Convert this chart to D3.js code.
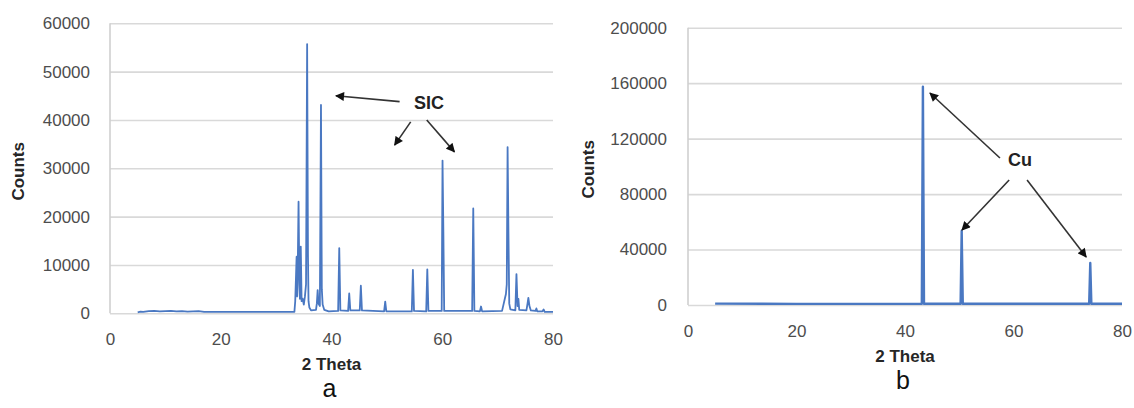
<!DOCTYPE html>
<html>
<head>
<meta charset="utf-8">
<script src="https://cdn.jsdelivr.net/npm/d3@7"></script>
<style>
  html, body { margin: 0; padding: 0; background: #fff; }
  text { font-family: "Liberation Sans", Arial, sans-serif; }
</style>
</head>
<body>
<svg id="chart" width="1134" height="408"></svg>
<script>
// ---- data ----
// panel a : SiC powder pattern
const thetaA = [5, 5.5, 6, 7, 8, 9, 10, 11, 12, 13, 14, 15, 16, 17, 20, 25, 30, 33.3,
  33.45, 33.6, 33.7, 33.8, 33.9, 34.05, 34.2, 34.3, 34.45, 34.6, 34.8, 35.0, 35.2, 35.4,
  35.6, 35.75, 35.85, 36.0, 36.3, 37.2, 37.35, 37.5, 37.65, 37.9, 38.1, 38.25, 38.4, 38.7,
  39.5, 41.2, 41.4, 41.6, 43.0, 43.2, 43.4, 45.1, 45.3, 45.5, 49.5, 49.7, 49.9,
  54.5, 54.7, 54.9, 57.1, 57.3, 57.5, 59.9, 60.05, 60.2, 60.35, 65.4, 65.6, 65.8,
  66.8, 67.0, 67.2, 70.8, 71.1, 71.3, 71.5, 71.65, 71.8, 71.95, 72.1, 72.3,
  73.2, 73.4, 73.6, 73.75, 73.9, 75.2, 75.4, 75.55, 75.75, 76.0, 76.85, 77.0, 77.15,
  78.1, 78.3, 78.5, 80];
const countsA = [200, 350, 300, 450, 500, 400, 450, 500, 400, 450, 350, 400, 450, 300, 300, 280, 280, 300,
  2500, 8000, 11700, 3500, 9000, 23100, 6000, 3000, 13800, 2500, 3000, 1800, 3500, 6000,
  55700, 12000, 2500, 1200, 600, 700, 2000, 4800, 2000, 1500, 43100, 5000, 1800, 700,
  400, 500, 13500, 600, 500, 4100, 600, 600, 5700, 600, 400, 2400, 400,
  400, 9000, 500, 400, 9100, 500, 500, 31600, 17000, 500, 500, 21700, 500,
  400, 1400, 400, 500, 2000, 3000, 4000, 6000, 34400, 17000, 2000, 800,
  600, 8100, 1500, 3000, 700, 600, 2000, 3200, 1500, 600, 500, 1000, 400,
  400, 800, 300, 300];

// panel b : Cu pattern
const thetaB = [5, 20, 43.1, 43.3, 43.5, 50.25, 50.45, 50.65, 73.95, 74.15, 74.35, 80];
const countsB = [1000, 800, 900, 157400, 900, 900, 53400, 900, 900, 30300, 900, 900];

const xTicks = [0, 20, 40, 60, 80];
const yTicksA = [0, 10000, 20000, 30000, 40000, 50000, 60000];
const yTicksB = [0, 40000, 80000, 120000, 160000, 200000];

// annotations in data units: [fromTheta, fromCounts, toTheta, toCounts]
const sicLabel = [57.6, 43600];
const sicArrows = [[52.3, 43800, 40.8, 45000], [54.3, 39600, 51.4, 34800], [57.2, 40000, 62.2, 33400]];
const cuLabel = [61.2, 104500];
const cuArrows = [[57.5, 106000, 44.6, 152900], [59.2, 90200, 50.5, 54100], [62.5, 90200, 73.4, 34600]];

const svg = d3.select('#chart');

svg.append('defs').append('marker')
  .attr('id', 'head')
  .attr('viewBox', '0 0 10 10')
  .attr('refX', 9).attr('refY', 5)
  .attr('markerWidth', 10).attr('markerHeight', 9)
  .attr('markerUnits', 'userSpaceOnUse')
  .attr('orient', 'auto')
  .append('path').attr('d', 'M0,0 L10,5 L0,10 z').attr('fill', '#111');

function drawPanel(p) {
  const x = d3.scaleLinear().domain([0, 80]).range([p.left, p.right]);
  const y = d3.scaleLinear().domain([0, p.yMax]).range([p.bottom, p.top]);
  const g = svg.append('g');

  // gridlines
  g.append('g')
    .attr('transform', `translate(${p.left},0)`)
    .call(d3.axisLeft(y).tickValues(p.yTicks).tickSize(-(p.right - p.left)).tickFormat(''))
    .call(a => a.select('.domain').remove())
    .call(a => a.selectAll('line').attr('stroke', '#d9d9d9').attr('stroke-width', 1.6));

  // left axis line
  g.append('line')
    .attr('x1', p.left).attr('x2', p.left)
    .attr('y1', p.top).attr('y2', p.bottom)
    .attr('stroke', '#d0d0d0').attr('stroke-width', 1.6);

  // y tick labels
  g.append('g')
    .attr('transform', `translate(${p.left},0)`)
    .call(d3.axisLeft(y).tickValues(p.yTicks).tickSize(0).tickPadding(p.yPad).tickFormat(d3.format('d')))
    .call(a => a.select('.domain').remove())
    .call(a => a.selectAll('text')
      .attr('font-size', 17).attr('fill', '#4d4d4d')
      .style('font-family', '"Liberation Sans", Arial, sans-serif'));

  // x tick labels
  g.append('g')
    .attr('transform', `translate(0,${p.bottom})`)
    .call(d3.axisBottom(x).tickValues(xTicks).tickSize(0).tickPadding(20))
    .call(a => a.select('.domain').remove())
    .call(a => a.selectAll('text')
      .attr('font-size', 17).attr('fill', '#4d4d4d')
      .style('font-family', '"Liberation Sans", Arial, sans-serif'));

  // pattern
  const line = d3.line().x(d => x(d[0])).y(d => y(d[1]));
  g.append('path')
    .datum(p.theta.map((t, i) => [t, p.counts[i]]))
    .attr('d', line)
    .attr('fill', 'none')
    .attr('stroke', '#4a78c2')
    .attr('stroke-width', p.lineW)
    .attr('stroke-linejoin', 'round');

  // axis titles
  g.append('text')
    .attr('x', (p.left + p.right) / 2).attr('y', p.bottom + 57)
    .attr('text-anchor', 'middle')
    .attr('font-size', 17).attr('font-weight', 'bold').attr('fill', '#262626')
    .text('2 Theta');
  g.append('text')
    .attr('transform', `translate(${p.yTitleX},${(p.top + p.bottom) / 2 + 3}) rotate(-90)`)
    .attr('text-anchor', 'middle')
    .attr('font-size', 17).attr('font-weight', 'bold').attr('fill', '#262626')
    .text('Counts');

  // panel letter
  g.append('text')
    .attr('x', (p.left + p.right) / 2 - 2).attr('y', p.bottom + 84)
    .attr('text-anchor', 'middle')
    .attr('font-size', 25).attr('fill', '#111')
    .text(p.letter);

  // annotation
  g.append('text')
    .attr('x', x(p.label[0])).attr('y', y(p.label[1]))
    .attr('text-anchor', 'middle').attr('dy', '0.35em')
    .attr('font-size', 18).attr('font-weight', 'bold').attr('fill', '#222')
    .text(p.labelText);
  g.selectAll('.arrow')
    .data(p.arrows)
    .enter().append('line')
    .attr('class', 'arrow')
    .attr('x1', d => x(d[0])).attr('y1', d => y(d[1]))
    .attr('x2', d => x(d[2])).attr('y2', d => y(d[3]))
    .attr('stroke', '#333').attr('stroke-width', 1.6)
    .attr('marker-end', 'url(#head)');
}

drawPanel({
  left: 110, right: 553, top: 23.3, bottom: 313.3, yMax: 60000, yTicks: yTicksA,
  yPad: 20, yTitleX: 24, theta: thetaA, counts: countsA, lineW: 1.8,
  letter: 'a', label: sicLabel, labelText: 'SIC', arrows: sicArrows
});

drawPanel({
  left: 688, right: 1122, top: 27.7, bottom: 305, yMax: 200000, yTicks: yTicksB,
  yPad: 21, yTitleX: 594, theta: thetaB, counts: countsB, lineW: 2.4,
  letter: 'b', label: cuLabel, labelText: 'Cu', arrows: cuArrows
});
</script>
</body>
</html>
